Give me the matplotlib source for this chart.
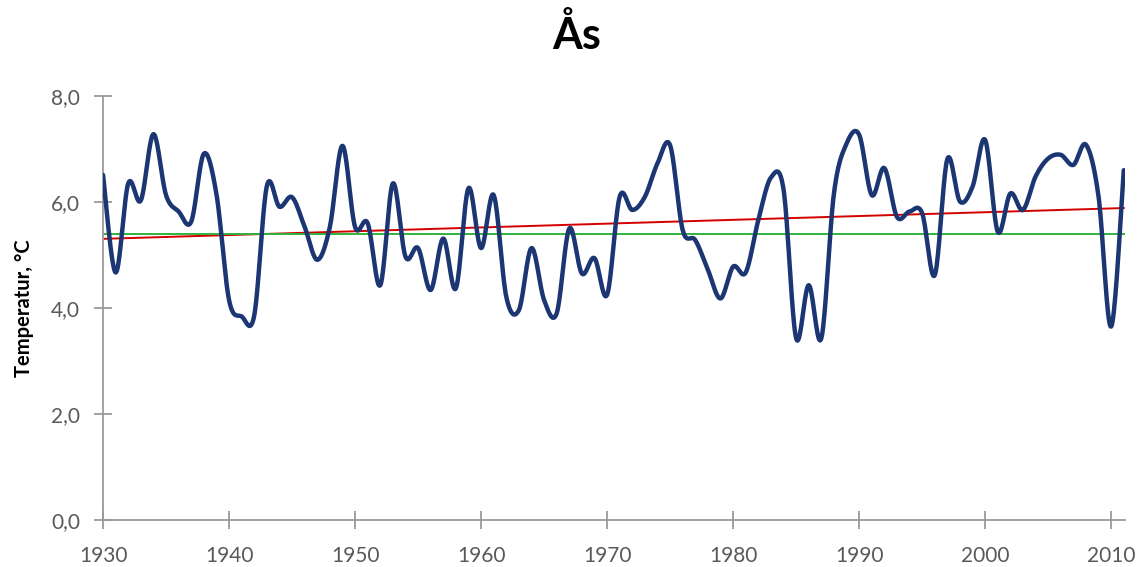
import numpy as np
import matplotlib.pyplot as plt

# yearly mean temperature, Ås
years = np.arange(1930, 2012)
temps = [6.51, 4.67, 6.35, 6.03, 7.28, 6.13, 5.82, 5.63, 6.91, 6.15,
         4.15, 3.84, 3.86, 6.30, 5.91, 6.09, 5.53, 4.91, 5.53, 7.06,
         5.53, 5.60, 4.43, 6.35, 4.97, 5.13, 4.34, 5.31, 4.37, 6.26,
         5.13, 6.13, 4.21, 3.96, 5.13, 4.15, 3.90, 5.50, 4.65, 4.94,
         4.25, 6.10, 5.85, 6.10, 6.73, 7.07, 5.47, 5.28, 4.72, 4.18,
         4.78, 4.67, 5.66, 6.46, 6.24, 3.43, 4.43, 3.43, 6.16, 7.10,
         7.27, 6.13, 6.64, 5.72, 5.82, 5.79, 4.62, 6.81, 6.01, 6.29,
         7.17, 5.44, 6.16, 5.85, 6.48, 6.82, 6.89, 6.70, 7.08, 6.10,
         3.65, 6.60]
normal = 5.39  # reference level (green line)
xticks = [1930, 1940, 1950, 1960, 1970, 1980, 1990, 2000, 2010]
yticks = [0, 2, 4, 6, 8]

temps = np.array(temps)


def smooth(x, y, n=20):
    # Excel-style smoothed line (Catmull-Rom / bezier through the points)
    px, py = [], []
    for i in range(len(x) - 1):
        x0, y0 = (x[i - 1], y[i - 1]) if i > 0 else (x[i], y[i])
        x3, y3 = (x[i + 2], y[i + 2]) if i + 2 < len(x) else (x[i + 1], y[i + 1])
        x1, y1, x2, y2 = x[i], y[i], x[i + 1], y[i + 1]
        c1x, c1y = x1 + (x2 - x0) / 6, y1 + (y2 - y0) / 6
        c2x, c2y = x2 - (x3 - x1) / 6, y2 - (y3 - y1) / 6
        t = np.linspace(0, 1, n, endpoint=False)
        a, b, c, d = (1 - t) ** 3, 3 * t * (1 - t) ** 2, 3 * t ** 2 * (1 - t), t ** 3
        px.extend(a * x1 + b * c1x + c * c2x + d * x2)
        py.extend(a * y1 + b * c1y + c * c2y + d * y2)
    px.append(x[-1])
    py.append(y[-1])
    return np.array(px), np.array(py)


plt.rcParams['font.family'] = ['Lato', 'DejaVu Sans']

fig = plt.figure(figsize=(11.46, 5.67), dpi=100)
ax = fig.add_axes([0.0899, 0.0829, 0.8918, 0.7478])

sx, sy = smooth(years.astype(float), temps)
ax.plot(sx, sy, color='#1b3672', lw=3.2, solid_capstyle='round', zorder=3)

# linear trend and reference level
k, m = np.polyfit(years, temps, 1)
ax.plot(years, k * years + m, color='#d40000', lw=1.4, zorder=2)
ax.plot(years, np.full(len(years), normal), color='#2fb33f', lw=1.4, zorder=2)

ax.set_xlim(1930, 2011.1)
ax.set_ylim(0, 8)
ax.set_xticks(xticks)
ax.set_yticks(yticks)
ax.set_yticklabels([f'{v:.1f}'.replace('.', ',') for v in yticks])

for s in ['top', 'right']:
    ax.spines[s].set_visible(False)
for s in ['left', 'bottom']:
    ax.spines[s].set_color('#9a9a9a')
    ax.spines[s].set_linewidth(1.3)
ax.spines['left'].set_bounds(0, 8)

ax.tick_params(axis='both', direction='inout', length=13, width=1.3,
               color='#9a9a9a', labelcolor='#595959', labelsize=15)
ax.tick_params(axis='y', pad=10)
ax.tick_params(axis='x', pad=12)

ax.set_ylabel('Temperatur, °C', fontsize=14.5, fontweight='bold', labelpad=12)
fig.suptitle('Ås', x=0.503, y=0.975, fontsize=31, fontweight='bold')

fig.savefig('out.png', dpi=100)
